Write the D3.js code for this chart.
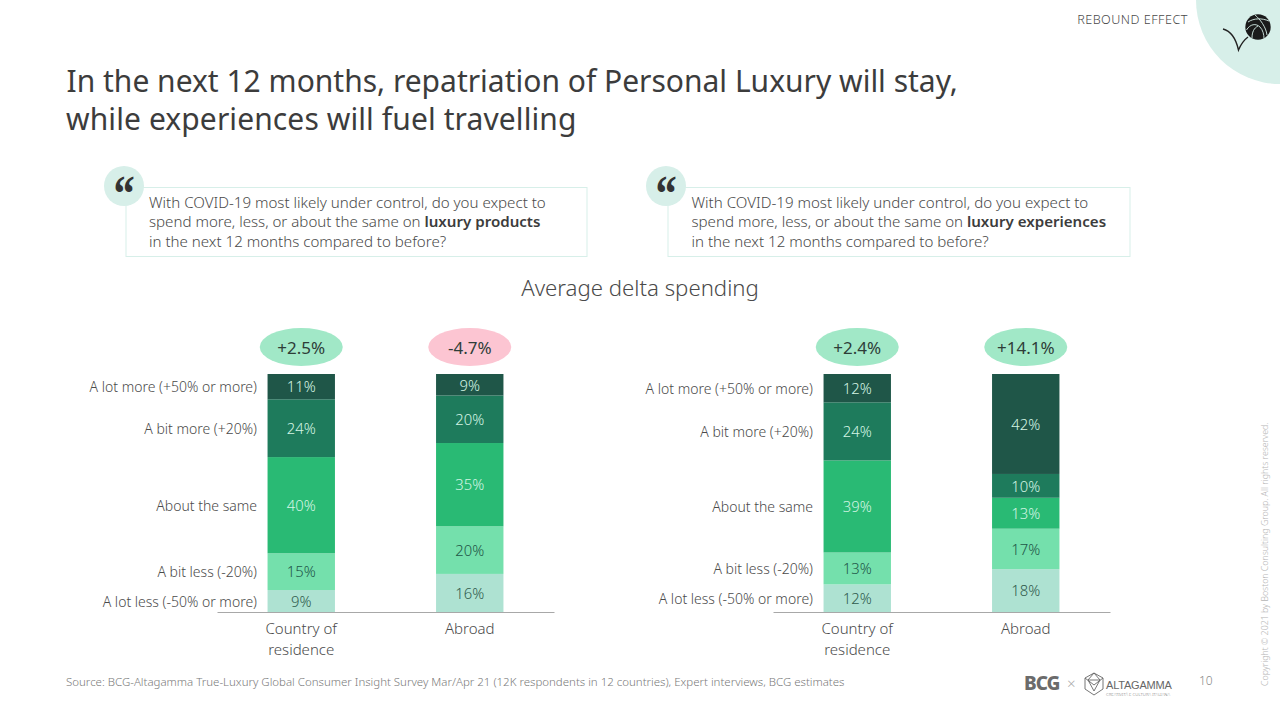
<!DOCTYPE html>
<html><head><meta charset="utf-8">
<script src="https://cdnjs.cloudflare.com/ajax/libs/d3/7.8.5/d3.min.js"></script>
<style>
html,body{margin:0;padding:0;background:#fff;overflow:hidden}
svg{display:block}
text{font-family:"Noto Sans",sans-serif;font-weight:300}
</style></head><body>
<svg id="c" width="1280" height="720"></svg>
<script>
const responses = ["A lot less (-50% or more)","A bit less (-20%)","About the same","A bit more (+20%)","A lot more (+50% or more)"];
const groups = ["Country of residence","Abroad"];
const productsHome = [9.2,15.4,40.3,24.2,10.6];
const productsAbroad = [16,20,35,20,9];
const experiencesHome = [11.6,13.4,38.7,24.4,11.9];
const experiencesAbroad = [18,17,13,10,42];
const productsDelta = ["+2.5%","-4.7%"];
const experiencesDelta = ["+2.4%","+14.1%"];
const segmentColors = ["#aee2d2","#74e0ac","#29ba74","#1e7b5c","#1f5648"];
const labelColors = ["#2f5a4d","#1f5648","#d4f5e4","#d4f5e4","#d4f5e4"];
const ink = "#4a4a4a";

const svg = d3.select("#c");

// corner + header
svg.append("circle").attr("cx",1280).attr("cy",0).attr("r",84).attr("fill","#d7efe9");
svg.append("text").attr("x",1188).attr("y",24).attr("text-anchor","end").attr("font-size",12.6).attr("letter-spacing",0.5).attr("fill",ink).text("REBOUND EFFECT");
svg.append("path").attr("d","M1223 29 C1231 31 1236 39 1238.5 50 C1241 44 1244 40 1248 37").attr("fill","none").attr("stroke","#222").attr("stroke-width",1.4);
svg.append("circle").attr("cx",1258).attr("cy",27).attr("r",12.7).attr("fill","#1a1a1a");
const ball = svg.append("g").attr("fill","none").attr("stroke","#d7efe9").attr("stroke-width",0.9);
ball.append("path").attr("d","M1248 22 C1254 18 1262 18 1269 21");
ball.append("path").attr("d","M1246.5 30 C1250 24 1256 23 1260 27 C1263 30 1264 35 1264 38.5");
ball.append("path").attr("d","M1255 15 C1260 19 1266 27 1267 35");
ball.append("path").attr("d","M1252 38 C1252 32 1254 28 1258 26");

// title
const title = svg.append("g").attr("font-size",30).attr("fill","#3c3c3c");
title.append("text").attr("x",66.5).attr("y",92).attr("style","font-weight:400").text("In the next 12 months, repatriation of Personal Luxury will stay,");
title.append("text").attr("x",66).attr("y",130).attr("letter-spacing",0.1).attr("style","font-weight:400").text("while experiences will fuel travelling");

// quotes
function quote(x0, w, tx, bold){
  svg.append("rect").attr("x",x0).attr("y",187.5).attr("width",w).attr("height",69).attr("fill","#fff").attr("stroke","#d7efe9");
  svg.append("circle").attr("cx",x0-2).attr("cy",186).attr("r",20).attr("fill","#d7efe9");
  svg.append("text").attr("transform",`translate(${x0-2},210) scale(0.85,1)`).attr("text-anchor","middle").attr("font-size",50).attr("style","font-family:'Liberation Serif',serif;font-weight:700").attr("fill","#333").text("\u201C");
  const g = svg.append("g").attr("font-size",15.1).attr("fill",ink);
  g.append("text").attr("x",tx).attr("y",208).text("With COVID-19 most likely under control, do you expect to");
  const l2 = g.append("text").attr("x",tx).attr("y",227);
  l2.append("tspan").text("spend more, less, or about the same on ");
  l2.append("tspan").attr("style","font-weight:600").attr("fill","#3c3c3c").text(bold);
  g.append("text").attr("x",tx).attr("y",247).text("in the next 12 months compared to before?");
}
quote(126,461,149,"luxury products");
quote(668,462,691.5,"luxury experiences");

svg.append("text").attr("x",640).attr("y",296).attr("text-anchor","middle").attr("font-size",22.2).attr("fill",ink).text("Average delta spending");

// panels
const y = d3.scaleLinear().domain([0,1]).range([612,374]);
function panel(x0, home, abroad, deltas){
  const x = d3.scaleBand().domain(groups).range([x0,x0+337]).paddingInner(0.6).paddingOuter(0.3);
  const rows = groups.map((g,i)=>{
    const o={group:g};
    responses.forEach((r,j)=>o[r]=(i?abroad:home)[j]);
    return o;
  });
  const stacked = d3.stack().keys(responses).offset(d3.stackOffsetExpand)(rows);
  const g = svg.append("g");
  stacked.forEach((s,j)=>{
    s.forEach(d=>{
      g.append("rect").attr("x",x(d.data.group)).attr("width",x.bandwidth())
        .attr("y",y(d[1])).attr("height",y(d[0])-y(d[1])).attr("fill",segmentColors[j]);
      g.append("text").attr("x",x(d.data.group)+x.bandwidth()/2).attr("y",y((d[0]+d[1])/2)+5.8)
        .attr("text-anchor","middle").attr("font-size",14.8).attr("fill",labelColors[j])
        .text(Math.round(d.data[responses[j]])+"%");
    });
    const d=s[0];
    g.append("text").attr("x",x0+40).attr("y",y((d[0]+d[1])/2)+5.5)
      .attr("text-anchor","end").attr("font-size",14).attr("fill",ink).text(responses[j]);
  });
  groups.forEach((gr,i)=>{
    const cx=x(gr)+x.bandwidth()/2;
    g.append("ellipse").attr("cx",cx).attr("cy",347).attr("rx",41.5).attr("ry",19)
      .attr("fill",deltas[i][0]==="-"?"#fcc5d2":"#a1e8c7");
    g.append("text").attr("x",cx).attr("y",354).attr("text-anchor","middle").attr("font-size",17).attr("style","font-weight:400").attr("fill","#2e3d38").text(deltas[i]);
  });
  const axis = g.append("g").attr("transform","translate(0,612)").call(d3.axisBottom(x).tickSize(0).tickSizeOuter(0).tickFormat(()=>""));
  axis.select(".domain").attr("stroke","#a8a8a8");
  axis.selectAll(".tick text").remove();
  groups.forEach(gr=>{
    const cx=x(gr)+x.bandwidth()/2;
    const parts = gr==="Abroad"?["Abroad"]:["Country of","residence"];
    parts.forEach((p,k)=>g.append("text").attr("x",cx).attr("y",634+k*21).attr("text-anchor","middle").attr("font-size",15).attr("fill",ink).text(p));
  });
}
panel(217,productsHome,productsAbroad,productsDelta);
panel(773,experiencesHome,experiencesAbroad,experiencesDelta);

// footer
svg.append("text").attr("x",66).attr("y",686).attr("font-size",11.47).attr("fill","#7a7a7a").text("Source: BCG-Altagamma True-Luxury Global Consumer Insight Survey Mar/Apr 21 (12K respondents in 12 countries), Expert interviews, BCG estimates");
svg.append("text").attr("x",1024).attr("y",690).attr("font-size",19).attr("letter-spacing",-1).attr("style","font-weight:800").attr("fill","#6b6b6b").text("BCG");
svg.append("text").attr("x",1067).attr("y",689).attr("font-size",15).attr("fill","#aaa").text("\u00D7");
const hex = svg.append("g").attr("fill","none").attr("stroke","#666").attr("stroke-width",0.9);
hex.append("path").attr("d","M1094 673 L1103 678 L1103 689 L1094 695 L1085 689 L1085 678 Z");
hex.append("path").attr("d","M1088 680 L1100 680 L1094 691 Z M1085 678 L1094 685 L1103 678 M1094 673 L1088 680 M1094 673 L1100 680");
svg.append("text").attr("x",1106).attr("y",688.5).attr("font-size",11).attr("fill","#666").attr("letter-spacing",-0.2).attr("style","font-family:'Liberation Sans',sans-serif").text("ALTAGAMMA");
svg.append("text").attr("x",1106).attr("y",695.5).attr("font-size",4.3).attr("fill","#777").text("CREATIVIT\u00C0 E CULTURA ITALIANA");
svg.append("text").attr("x",1199).attr("y",685).attr("font-size",12).attr("fill","#8a8a8a").text("10");
svg.append("text").attr("transform","translate(1268,686) rotate(-90)").attr("font-size",8.77).attr("fill","#b5b5b5").text("Copyright \u00A9 2021 by Boston Consulting Group. All rights reserved.");
</script>
</body></html>
